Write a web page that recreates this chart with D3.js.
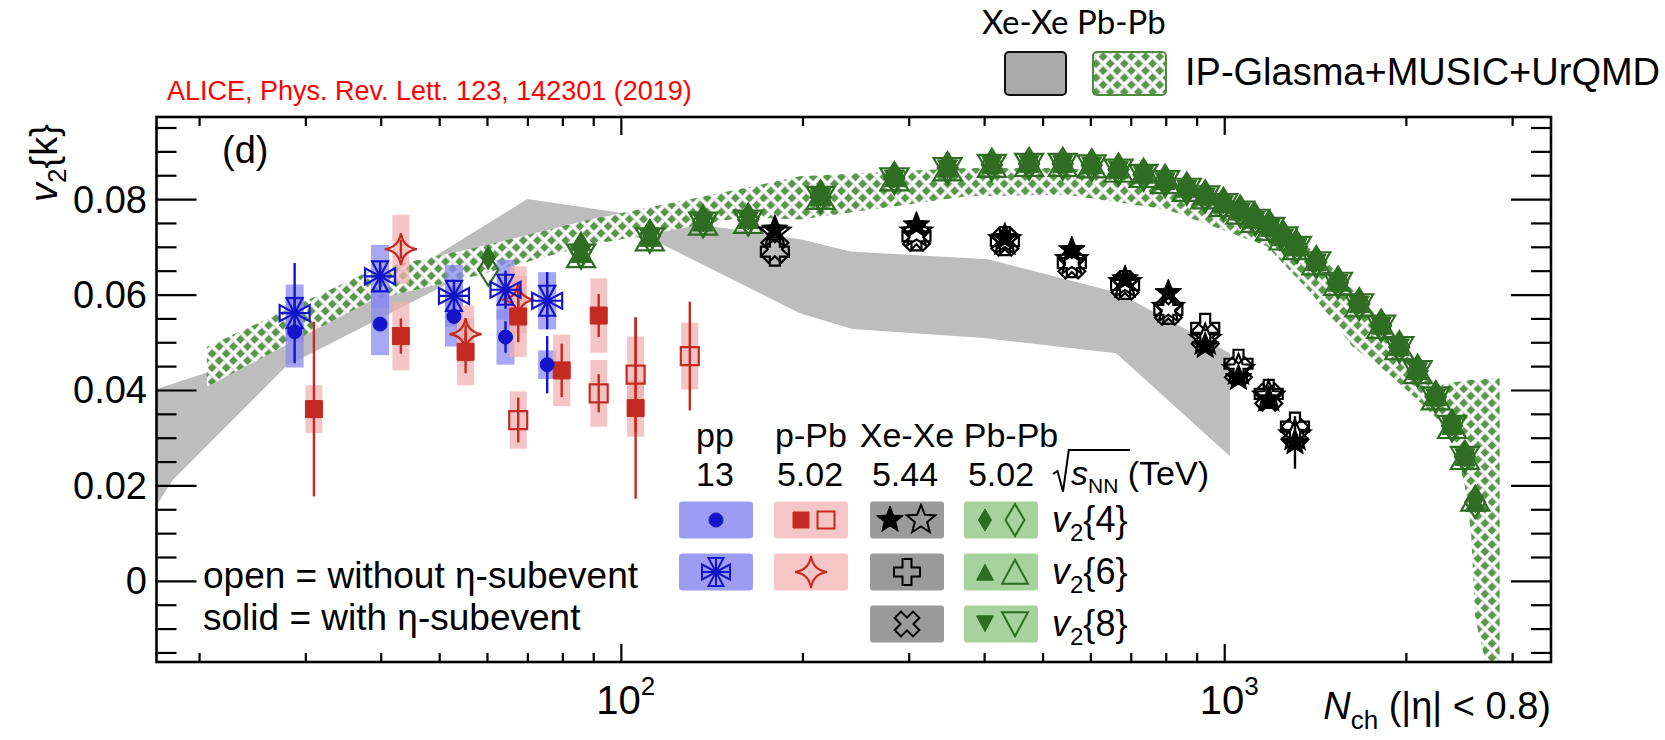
<!DOCTYPE html>
<html>
<head>
<meta charset="utf-8">
<script src="https://cdn.jsdelivr.net/npm/d3@7"></script>
<style>
  body { margin: 0; background: #fff; }
  svg { display: block; }
  text { font-family: "Liberation Sans", Arial, Helvetica, sans-serif; fill: #000; }
</style>
</head>
<body>
<svg id="chart" width="1665" height="740"></svg>
<script>
// ---------------- data ----------------
// pp 13 TeV
const ppN       = [28.8, 39.9, 52.9, 64.4, 75.5];
const ppV24     = [0.0522, 0.0538, 0.0554, 0.0511, 0.0453];
const ppV24Stat = [0.0015, 0.0013, 0.0012, 0.0033, 0.0060];
const ppV24Sys  = [0.0075, 0.0065, 0.0063, 0.0058, 0.0030];
const ppV26     = [0.0561, 0.0638, 0.0597, 0.0610, 0.0587];
const ppV26Stat = [0.0105, 0.0025, 0.0030, 0.0040, 0.0060];
const ppV26Sys  = [0.0060, 0.0066, 0.0065, 0.0063, 0.0060];

// p-Pb 5.02 TeV
const pPbN          = [31.0, 43.2, 55.3, 67.6, 79.8, 91.9, 105.8];
const pPbV24Sub     = [0.0360, 0.0513, 0.0480, 0.0554, 0.0441, 0.0556, 0.0362];
const pPbV24SubStat = [0.0183, 0.0037, 0.0045, 0.0054, 0.0056, 0.0045, 0.0190];
const pPbV24SubSys  = [0.0050, 0.0072, 0.0070, 0.0085, 0.0075, 0.0078, 0.0060];
const pPbOpenN      = [67.6, 91.9, 105.8, 130.1];
const pPbV24        = [0.0337, 0.0393, 0.0432, 0.0471];
const pPbV24Stat    = [0.0047, 0.0040, 0.0120, 0.0114];
const pPbV24Sys     = [0.0060, 0.0070, 0.0080, 0.0070];
const pPbV26N       = [43.2, 55.3, 67.6];
const pPbV26        = [0.0695, 0.0517, 0.0589];
const pPbV26Stat    = [0.0020, 0.0020, 0.0020];
const pPbV26Sys     = [0.0072, 0.0060, 0.0070];

// Xe-Xe 5.44 TeV
const xeN        = [180, 309, 433, 559, 685, 808, 930, 1056, 1185, 1310];
const xeV24Sub   = [0.0736, 0.0745, 0.0718, 0.0693, 0.0632, 0.0603, 0.0492, 0.0425, 0.0380, 0.0290];
const xeV24SubStat = [0.0010, 0.0010, 0.0010, 0.0010, 0.0010, 0.0012, 0.0012, 0.0015, 0.0020, 0.0055];
const xeV24      = [0.0730, 0.0730, 0.0714, 0.0672, 0.0624, 0.0572, 0.0505, 0.0442, 0.0386, 0.0305];
const xeV26      = [0.0690, 0.0722, 0.0712, 0.0666, 0.0620, 0.0568, 0.0530, 0.0455, 0.0392, 0.0323];
const xeV28      = [0.0695, 0.0720, 0.0710, 0.0662, 0.0618, 0.0565, 0.0510, 0.0440, 0.0385, 0.0310];

// Pb-Pb 5.02 TeV
const pbN      = [60.3, 85.9, 111.7, 136.9, 162.6, 214.4, 284, 348, 412, 475, 540, 603, 668, 735, 798, 867, 930, 997, 1063, 1126, 1192, 1254, 1320, 1421, 1544, 1674, 1820, 1951, 2092, 2242, 2385, 2505, 2606];
const pbV24Sub = [0.0677, 0.0707, 0.0733, 0.0760, 0.0764, 0.0810, 0.0848, 0.0868, 0.0875, 0.0877, 0.0877, 0.0874, 0.0866, 0.0855, 0.0842, 0.0826, 0.0810, 0.0794, 0.0778, 0.0761, 0.0744, 0.0724, 0.0704, 0.0672, 0.0629, 0.0584, 0.0539, 0.0494, 0.0444, 0.0389, 0.0329, 0.0264, 0.0168];
const pbV24    = [0.0652, 0.0690, 0.0722, 0.0753, 0.0757, 0.0805, 0.0844, 0.0865, 0.0872, 0.0874, 0.0874, 0.0871, 0.0862, 0.0851, 0.0838, 0.0822, 0.0806, 0.0790, 0.0774, 0.0757, 0.0740, 0.0720, 0.0700, 0.0668, 0.0625, 0.0580, 0.0535, 0.0490, 0.0440, 0.0385, 0.0325, 0.0260, 0.0165];
const pbV26Sub = [null, 0.0684, 0.0718, 0.0750, 0.0755, 0.0804, 0.0843, 0.0864, 0.0871, 0.0873, 0.0873, 0.0870, 0.0861, 0.0850, 0.0837, 0.0821, 0.0805, 0.0789, 0.0773, 0.0756, 0.0739, 0.0719, 0.0699, 0.0667, 0.0624, 0.0579, 0.0534, 0.0489, 0.0439, 0.0384, 0.0324, 0.0259, 0.0163];
const pbV26    = [null, 0.0680, 0.0715, 0.0748, 0.0752, 0.0802, 0.0841, 0.0862, 0.0869, 0.0871, 0.0871, 0.0868, 0.0859, 0.0848, 0.0835, 0.0819, 0.0803, 0.0787, 0.0771, 0.0754, 0.0737, 0.0717, 0.0697, 0.0665, 0.0622, 0.0577, 0.0532, 0.0487, 0.0437, 0.0382, 0.0322, 0.0257, 0.0170];
const pbV28Sub = [null, 0.0686, 0.0720, 0.0752, 0.0756, 0.0805, 0.0844, 0.0865, 0.0872, 0.0874, 0.0874, 0.0871, 0.0862, 0.0851, 0.0838, 0.0822, 0.0806, 0.0790, 0.0774, 0.0757, 0.0740, 0.0720, 0.0700, 0.0668, 0.0625, 0.0580, 0.0535, 0.0490, 0.0440, 0.0385, 0.0325, 0.0260, null];
const pbV28    = [null, 0.0682, 0.0716, 0.0749, 0.0753, 0.0803, 0.0842, 0.0863, 0.0870, 0.0872, 0.0872, 0.0869, 0.0860, 0.0849, 0.0836, 0.0820, 0.0804, 0.0788, 0.0772, 0.0755, 0.0738, 0.0718, 0.0698, 0.0666, 0.0623, 0.0578, 0.0533, 0.0488, 0.0438, 0.0383, 0.0323, 0.0258, null];

// IP-Glasma+MUSIC+UrQMD model bands
const xeModelUpperN = [17, 21, 30, 45, 70, 200, 240, 406, 669, 1022];
const xeModelUpperV = [0.0402, 0.0440, 0.0530, 0.0650, 0.0800, 0.0715, 0.0690, 0.0674, 0.0603, 0.0477];
const xeModelLowerN = [1022, 662, 400, 242, 198, 113, 85, 55, 27.9, 18.1, 17];
const xeModelLowerV = [0.0261, 0.0477, 0.0509, 0.0528, 0.0561, 0.0715, 0.0736, 0.0640, 0.0450, 0.0212, 0.0158];

const pbModelUpperN = [20.6, 38.8, 56.9, 88.8, 159, 198, 374, 548, 804, 1177, 1500, 1900, 2270, 2500, 2861];
const pbModelUpperV = [0.0490, 0.0652, 0.0697, 0.0757, 0.0822, 0.0848, 0.0865, 0.0865, 0.0841, 0.0771, 0.0660, 0.0520, 0.0410, 0.0420, 0.0425];
const pbModelLowerN = [2861, 2750, 2606, 2566, 2505, 2385, 2092, 1869, 1630, 1400, 1177, 804, 548, 374, 198, 159, 88.8, 56.9, 38.8, 20.6];
const pbModelLowerV = [-0.0200, -0.0200, -0.0080, 0.0100, 0.0198, 0.0310, 0.0379, 0.0435, 0.0491, 0.0600, 0.0701, 0.0778, 0.0809, 0.0806, 0.0757, 0.0762, 0.0704, 0.0638, 0.0589, 0.0407];

// axis ticks
const yMajorTicks  = [0, 0.02, 0.04, 0.06, 0.08];
const yTickLabels  = ["0", "0.02", "0.04", "0.06", "0.08"];
const yMinorTicks  = [-0.015, -0.01, -0.005, 0.005, 0.01, 0.015, 0.025, 0.03, 0.035, 0.045, 0.05, 0.055, 0.065, 0.07, 0.075, 0.085, 0.09, 0.095];
const xMajorTicks  = [100, 1000];
const xTickExps    = ["2", "3"];
const xMinorTicks  = [20, 30, 40, 50, 60, 70, 80, 90, 200, 300, 400, 500, 600, 700, 800, 900, 2000, 3000];

// ---------------- layout ----------------
const svg = d3.select("#chart");
const frame = { left: 156.5, right: 1551, top: 117, bottom: 662 };
const x = d3.scaleLog().domain([17, 3480]).range([frame.left, frame.right]);
const y = d3.scaleLinear().domain([-0.017, 0.0972]).range([frame.bottom, frame.top]);

const colPP = "#1414c8", colPPb = "#c42a22", colXe = "#000000", colPb = "#2f6e22";

const defs = svg.append("defs");
defs.append("clipPath").attr("id", "plotClip")
  .append("rect").attr("x", frame.left).attr("y", frame.top)
  .attr("width", frame.right - frame.left).attr("height", frame.bottom - frame.top);

// woven green hatch used for the Pb-Pb model band
const hatch = defs.append("pattern").attr("id", "hatch")
  .attr("patternUnits", "userSpaceOnUse").attr("width", 10).attr("height", 10)
  .attr("patternTransform", "rotate(45)");
hatch.append("rect").attr("width", 10).attr("height", 10).attr("fill", "#5a954c");
hatch.append("path").attr("d", "M0,5H10M5,0V10").attr("stroke", "#ffffff").attr("stroke-width", 3.6);
hatch.append("path").attr("d", "M0,6.6H10").attr("stroke", "#c9c9c9").attr("stroke-width", 0.8);

// ---------------- marker shapes ----------------
const shape = {
  circle: r => `M${r},0A${r},${r} 0 1,1 ${-r},0A${r},${r} 0 1,1 ${r},0Z`,
  square: h => `M${-h},${-h}H${h}V${h}H${-h}Z`,
  diamond: (w, h) => `M0,${-h}L${w},0L0,${h}L${-w},0Z`,
  triUp: (w, h) => `M0,${-h * 0.55}L${w},${h * 0.45}L${-w},${h * 0.45}Z`,
  triDown: (w, h) => `M0,${h * 0.55}L${w},${-h * 0.45}L${-w},${-h * 0.45}Z`,
  star5: (R, r) => {
    let p = "";
    for (let i = 0; i < 10; i++) {
      const a = -Math.PI / 2 + i * Math.PI / 5;
      const rr = i % 2 === 0 ? R : r;
      p += (i === 0 ? "M" : "L") + (rr * Math.cos(a)).toFixed(2) + "," + (rr * Math.sin(a)).toFixed(2);
    }
    return p + "Z";
  },
  star4: (R, r) => `M0,${-R}Q${r},${-r} ${R},0Q${r},${r} 0,${R}Q${-r},${r} ${-R},0Q${-r},${-r} 0,${-R}Z`,
  plus: (h, a) => `M${-a},${-h}H${a}V${-a}H${h}V${a}H${a}V${h}H${-a}V${a}H${-h}V${-a}H${-a}Z`,
  hourglass: (h, b) => `M${-b},${-h}L${b},${-h}L${-b},${h}L${b},${h}Z M${-h},${-b}L${-h},${b}L${h},${-b}L${h},${b}Z M0,${-h}V${h}M${-h},0H${h}`
};

function marker(g, d, cx, cy, color, filled, sw, rot) {
  return g.append("path").attr("d", d)
    .attr("transform", `translate(${cx},${cy})` + (rot ? ` rotate(${rot})` : ""))
    .attr("fill", filled ? color : "none")
    .attr("stroke", color).attr("stroke-width", sw || 2.2)
    .attr("stroke-linejoin", "miter");
}

function pts(N, V) {
  return N.map((n, i) => ({ n, v: V[i] })).filter(d => d.v !== null && d.v !== undefined);
}

// ---------------- model bands ----------------
const plot = svg.append("g").attr("clip-path", "url(#plotClip)");
const bandLine = d3.line().x(d => x(d.n)).y(d => y(d.v));

plot.append("path")
  .attr("d", bandLine(pts(xeModelUpperN, xeModelUpperV).concat(pts(xeModelLowerN, xeModelLowerV))) + "Z")
  .attr("fill", "#bdbdbd");

plot.append("path")
  .attr("d", bandLine(pts(pbModelUpperN, pbModelUpperV).concat(pts(pbModelLowerN, pbModelLowerV))) + "Z")
  .attr("fill", "url(#hatch)");

// ---------------- systematic boxes & statistical bars ----------------
function sysBoxes(N, V, S, fill, op, w) {
  plot.append("g").selectAll("rect")
    .data(N.map((n, i) => ({ n, v: V[i], s: S[i] })))
    .join("rect")
    .attr("x", d => x(d.n) - w / 2).attr("width", w)
    .attr("y", d => y(d.v + d.s)).attr("height", d => y(d.v - d.s) - y(d.v + d.s))
    .attr("fill", fill).attr("opacity", op);
}
function statBars(N, V, E, color) {
  plot.append("g").selectAll("line")
    .data(N.map((n, i) => ({ n, v: V[i], e: E[i] })))
    .join("line")
    .attr("x1", d => x(d.n)).attr("x2", d => x(d.n))
    .attr("y1", d => y(d.v + d.e)).attr("y2", d => y(d.v - d.e))
    .attr("stroke", color).attr("stroke-width", 2.4);
}

sysBoxes(ppN, ppV26, ppV26Sys, "#8a8af0", 0.75, 18);
sysBoxes(ppN, ppV24, ppV24Sys, "#8a8af0", 0.75, 18);
sysBoxes(pPbN, pPbV24Sub, pPbV24SubSys, "#f2b0b0", 0.75, 17);
sysBoxes(pPbOpenN, pPbV24, pPbV24Sys, "#f2b0b0", 0.75, 17);
sysBoxes(pPbV26N, pPbV26, pPbV26Sys, "#f2b0b0", 0.75, 17);

statBars(pPbN, pPbV24Sub, pPbV24SubStat, colPPb);
statBars(pPbOpenN, pPbV24, pPbV24Stat, colPPb);
statBars(pPbV26N, pPbV26, pPbV26Stat, colPPb);
statBars(ppN, ppV24, ppV24Stat, colPP);
statBars(ppN, ppV26, ppV26Stat, colPP);
statBars(xeN, xeV24Sub, xeV24SubStat, colXe);

// ---------------- markers ----------------
const mk = plot.append("g");
// Pb-Pb
pts(pbN, pbV26).forEach(d => marker(mk, shape.triUp(14, 24), x(d.n), y(d.v), colPb, false, 2.2));
pts(pbN, pbV28).forEach(d => marker(mk, shape.triDown(14, 24), x(d.n), y(d.v), colPb, false, 2.2));
pts(pbN, pbV24).forEach(d => marker(mk, shape.diamond(10, 16), x(d.n), y(d.v), colPb, false, 2.2));
pts(pbN, pbV26Sub).forEach(d => marker(mk, shape.triUp(10, 18), x(d.n), y(d.v), colPb, true, 1));
pts(pbN, pbV28Sub).forEach(d => marker(mk, shape.triDown(10, 18), x(d.n), y(d.v), colPb, true, 1));
pts(pbN, pbV24Sub).forEach(d => marker(mk, shape.diamond(7, 12), x(d.n), y(d.v), colPb, true, 1));

// Xe-Xe
pts(xeN, xeV28).forEach(d => marker(mk, shape.plus(14, 5), x(d.n), y(d.v), colXe, false, 2.2, 45));
pts(xeN, xeV26).forEach(d => marker(mk, shape.plus(14, 5), x(d.n), y(d.v), colXe, false, 2.2));
pts(xeN, xeV24).forEach(d => marker(mk, shape.star5(16, 7), x(d.n), y(d.v), colXe, false, 2.2));
pts(xeN, xeV24Sub).forEach(d => marker(mk, shape.star5(14, 6), x(d.n), y(d.v), colXe, true, 1));

// p-Pb
pts(pPbOpenN, pPbV24).forEach(d => marker(mk, shape.square(9), x(d.n), y(d.v), colPPb, false, 2.2));
pts(pPbV26N, pPbV26).forEach(d => marker(mk, shape.star4(16, 2), x(d.n), y(d.v), colPPb, false, 2.2));
pts(pPbN, pPbV24Sub).forEach(d => marker(mk, shape.square(8.5), x(d.n), y(d.v), colPPb, true, 1));

// pp
pts(ppN, ppV26).forEach(d => marker(mk, shape.hourglass(15, 8), x(d.n), y(d.v), colPP, false, 2.2));
pts(ppN, ppV24).forEach(d => marker(mk, shape.circle(7), x(d.n), y(d.v), colPP, true, 1));

// ---------------- axes ----------------
const axes = svg.append("g");
function tickAxis(gen, vals, size, tr) {
  const a = axes.append("g").attr("transform", tr)
    .call(gen.tickValues(vals).tickSize(size).tickSizeOuter(0).tickFormat(""));
  a.select(".domain").remove();
  a.selectAll(".tick line").attr("stroke", "#000").attr("stroke-width", 2.2);
}
tickAxis(d3.axisRight(y), yMajorTicks, 40, `translate(${frame.left},0)`);
tickAxis(d3.axisRight(y), yMinorTicks, 20, `translate(${frame.left},0)`);
tickAxis(d3.axisLeft(y), yMajorTicks, 40, `translate(${frame.right},0)`);
tickAxis(d3.axisLeft(y), yMinorTicks, 20, `translate(${frame.right},0)`);
tickAxis(d3.axisTop(x), xMajorTicks, 18, `translate(0,${frame.bottom})`);
tickAxis(d3.axisTop(x), xMinorTicks, 9, `translate(0,${frame.bottom})`);
tickAxis(d3.axisBottom(x), xMajorTicks, 18, `translate(0,${frame.top})`);
tickAxis(d3.axisBottom(x), xMinorTicks, 9, `translate(0,${frame.top})`);

axes.append("rect").attr("x", frame.left).attr("y", frame.top)
  .attr("width", frame.right - frame.left).attr("height", frame.bottom - frame.top)
  .attr("fill", "none").attr("stroke", "#000").attr("stroke-width", 2.6);

// y tick labels
yMajorTicks.forEach((v, i) => {
  axes.append("text").attr("x", 147).attr("y", y(v) + 13.5)
    .attr("text-anchor", "end").attr("font-size", 38).text(yTickLabels[i]);
});
// x tick labels 10^n
xMajorTicks.forEach((v, i) => {
  const t = axes.append("text").attr("x", x(v) + 5).attr("y", 714)
    .attr("text-anchor", "middle").attr("font-size", 40);
  t.append("tspan").text("10");
  t.append("tspan").attr("font-size", 26).attr("dy", -19).text(xTickExps[i]);
});

// axis titles
const xt = axes.append("text").attr("x", frame.right).attr("y", 719)
  .attr("text-anchor", "end").attr("font-size", 38);
xt.append("tspan").attr("font-style", "italic").text("N");
xt.append("tspan").attr("font-size", 26).attr("dy", 10).text("ch");
xt.append("tspan").attr("dy", -10).text(" (|η| < 0.8)");

const yt = axes.append("text").attr("transform", "translate(57,202) rotate(-90)")
  .attr("font-size", 38);
yt.append("tspan").attr("font-style", "italic").text("v");
yt.append("tspan").attr("font-size", 26).attr("dy", 9).text("2");
yt.append("tspan").attr("dy", -9).text("{k}");

// panel tag and reference
svg.append("text").attr("x", 222).attr("y", 163).attr("font-size", 38).text("(d)");
svg.append("text").attr("x", 167).attr("y", 100).attr("font-size", 27)
  .style("fill", "#ff0000").text("ALICE, Phys. Rev. Lett. 123, 142301 (2019)");

// ---------------- model legend (top right) ----------------
const lt = svg.append("g");
lt.append("text").attr("x", 982).attr("y", 34).attr("font-size", 33)
  .style("font-family", "Lato, 'Open Sans', sans-serif").text("Xe-Xe Pb-Pb");
lt.append("rect").attr("x", 1005).attr("y", 52).attr("width", 61).attr("height", 43).attr("rx", 4)
  .attr("fill", "#aaaaaa").attr("stroke", "#111").attr("stroke-width", 2);
lt.append("rect").attr("x", 1093).attr("y", 52).attr("width", 73).attr("height", 43).attr("rx", 4)
  .attr("fill", "url(#hatch)").attr("stroke", "#4d8a40").attr("stroke-width", 2);
lt.append("text").attr("x", 1185).attr("y", 85).attr("font-size", 38).text("IP-Glasma+MUSIC+UrQMD");

// ---------------- data legend (bottom) ----------------
const lg = svg.append("g");
const headers = [
  { sys: "pp", e: "13", cx: 715, ce: 715 },
  { sys: "p-Pb", e: "5.02", cx: 811, ce: 810 },
  { sys: "Xe-Xe", e: "5.44", cx: 907, ce: 905 },
  { sys: "Pb-Pb", e: "5.02", cx: 1011, ce: 1001 }
];
headers.forEach(h => {
  lg.append("text").attr("x", h.cx).attr("y", 447).attr("text-anchor", "middle").attr("font-size", 34).text(h.sys);
  lg.append("text").attr("x", h.ce).attr("y", 486).attr("text-anchor", "middle").attr("font-size", 34).text(h.e);
});
// sqrt(s_NN) (TeV)
lg.append("path").attr("d", "M1053,474 L1057.5,471 L1063,491.5 L1068.8,450 H1130")
  .attr("fill", "none").attr("stroke", "#000").attr("stroke-width", 2);
const sq = lg.append("text").attr("x", 1071).attr("y", 485).attr("font-size", 34);
sq.append("tspan").attr("font-style", "italic").text("s");
sq.append("tspan").attr("font-size", 21).attr("dy", 8).text("NN");
sq.append("tspan").attr("dy", -8).text(" (TeV)");

const boxCols = [
  { x: 679, fill: "#9c9cf2" },
  { x: 774, fill: "#f6c6c6" },
  { x: 870, fill: "#9a9a9a" },
  { x: 964, fill: "#a6d39b" }
];
const rowsY = [501.5, 553.5, 605.5];
const rowBoxes = [[0, 1, 2, 3], [0, 1, 2, 3], [2, 3]];
rowBoxes.forEach((cols, r) => cols.forEach(c => {
  lg.append("rect").attr("x", boxCols[c].x).attr("y", rowsY[r]).attr("width", 74).attr("height", 37)
    .attr("rx", 3).attr("fill", boxCols[c].fill);
}));
const rc = r => rowsY[r] + 18.5;
// row v2{4}
marker(lg, shape.circle(7), 716, rc(0), colPP, true, 1);
marker(lg, shape.square(8), 801, rc(0), colPPb, true, 1);
marker(lg, shape.square(8.5), 826, rc(0), colPPb, false, 2);
marker(lg, shape.star5(14, 6), 890, rc(0), colXe, true, 1);
marker(lg, shape.star5(15, 6.5), 921, rc(0), colXe, false, 2);
marker(lg, shape.diamond(6.5, 11), 985, rc(0), colPb, true, 1);
marker(lg, shape.diamond(9.5, 16), 1015, rc(0), colPb, false, 2);
// row v2{6}
marker(lg, shape.hourglass(14, 7.5), 716, rc(1), colPP, false, 2);
marker(lg, shape.star4(16, 2), 811, rc(1), colPPb, false, 2);
marker(lg, shape.plus(13, 4.5), 907, rc(1), colXe, false, 2);
marker(lg, shape.triUp(8.5, 16), 985, rc(1) + 1, colPb, true, 1);
marker(lg, shape.triUp(13, 24), 1015, rc(1) + 1, colPb, false, 2);
// row v2{8}
marker(lg, shape.plus(13, 4.5), 907, rc(2), colXe, false, 2, 45);
marker(lg, shape.triDown(8.5, 16), 985, rc(2) - 1, colPb, true, 1);
marker(lg, shape.triDown(13, 24), 1015, rc(2) - 1, colPb, false, 2);

["4", "6", "8"].forEach((k, r) => {
  const t = lg.append("text").attr("x", 1052).attr("y", rc(r) + 12).attr("font-size", 36);
  t.append("tspan").attr("font-style", "italic").text("v");
  t.append("tspan").attr("font-size", 24).attr("dy", 9).text("2");
  t.append("tspan").attr("dy", -9).text("{" + k + "}");
});

lg.append("text").attr("x", 203).attr("y", 588).attr("font-size", 37).text("open = without η-subevent");
lg.append("text").attr("x", 203).attr("y", 630).attr("font-size", 37).text("solid = with η-subevent");
</script>
</body>
</html>
